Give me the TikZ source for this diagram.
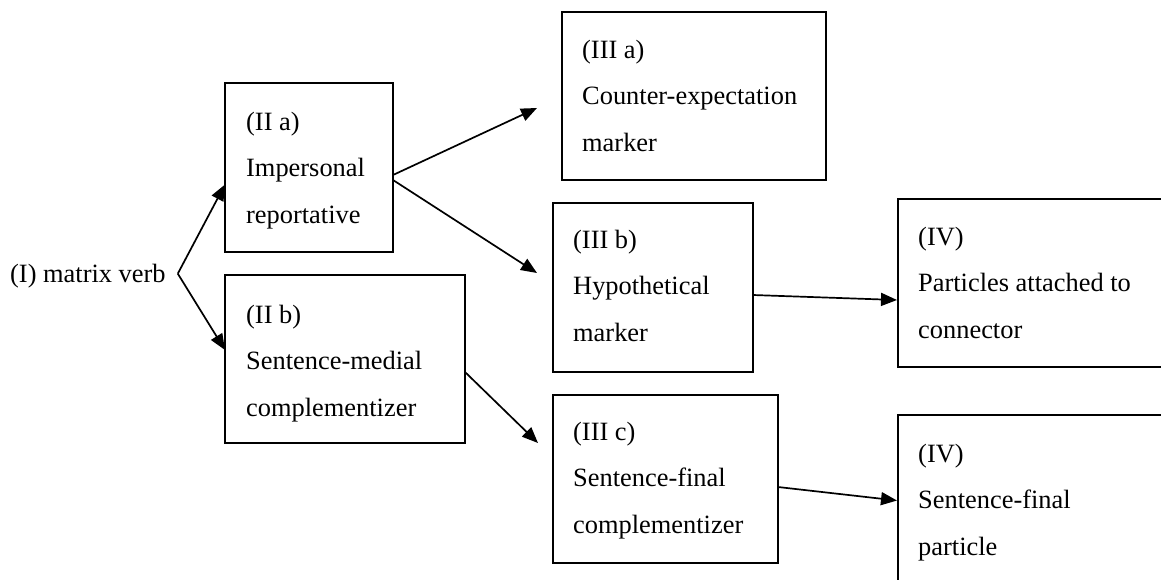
\documentclass[tikz,border=0pt]{standalone}
\usepackage{fontspec}
\setmainfont{Liberation Serif}
\usetikzlibrary{arrows.meta}

\tikzset{
  stage/.style={draw=black, line width=1.8pt, anchor=north west, inner sep=0pt, outer sep=0pt},
  lbl/.style={inner sep=0pt, anchor=base west, font=\fontsize{26.4pt}{46.5pt}\selectfont},
  link/.style={line width=1.7pt, -{Triangle[length=16pt,width=13pt]}},
}
\newcommand{\stagetext}[1]{\parbox[t]{320pt}{\raggedright #1}}

\begin{document}
\begin{tikzpicture}[x=1pt, y=-1pt]
  \useasboundingbox (0,0) rectangle (1161,579);
  \clip (0,0) rectangle (1161,579);

  % source verb
  \node[lbl] (I) at (10,282) {(I) matrix verb};

  % stage boxes
  \node[stage, minimum width=168pt, minimum height=169pt] (IIa) at (225,83) {};
  \node[stage, minimum width=240pt, minimum height=168pt] (IIb) at (225,275) {};
  \node[stage, minimum width=264pt, minimum height=168pt] (IIIa) at (562,12) {};
  \node[stage, minimum width=200pt, minimum height=169pt] (IIIb) at (553,203) {};
  \node[stage, minimum width=225pt, minimum height=168pt] (IIIc) at (553,395) {};
  \node[stage, minimum width=290pt, minimum height=168pt] (IVa) at (898,199) {};
  \node[stage, minimum width=290pt, minimum height=190pt] (IVb) at (898,415) {};

  % box texts
  \node[lbl] (IIa-t) at ([xshift=21pt,yshift=-47pt]IIa.north west)
    {\stagetext{(II a)\\Impersonal\\reportative}};
  \node[lbl] (IIb-t) at ([xshift=21pt,yshift=-48pt]IIb.north west)
    {\stagetext{(II b)\\Sentence-medial\\complementizer}};
  \node[lbl] (IIIa-t) at ([xshift=20pt,yshift=-46pt]IIIa.north west)
    {\stagetext{(III a)\\Counter-expectation\\marker}};
  \node[lbl] (IIIb-t) at ([xshift=20pt,yshift=-45pt]IIIb.north west)
    {\stagetext{(III b)\\Hypothetical\\marker}};
  \node[lbl] (IIIc-t) at ([xshift=20pt,yshift=-45pt]IIIc.north west)
    {\stagetext{(III c)\\Sentence-final\\complementizer}};
  \node[lbl] (IVa-t) at ([xshift=20pt,yshift=-46pt]IVa.north west)
    {\stagetext{(IV)\\Particles attached to\\connector}};
  \node[lbl] (IVb-t) at ([xshift=20pt,yshift=-47pt]IVb.north west)
    {\stagetext{(IV)\\Sentence-final\\particle}};

  % fork point after the verb
  \coordinate (fork) at ([xshift=12pt,yshift=2pt]I.east);

  % connectors
  \draw[link] (fork) -- ([yshift=-17pt]IIa.west);
  \draw[link] (fork) -- ([yshift=9pt]IIb.west);
  \draw[link] ([yshift=-7.5pt]IIa.east) -- ([xshift=-25pt,yshift=-12pt]IIIa.west);
  \draw[link] ([yshift=-12.5pt]IIa.east) -- ([xshift=-16pt,yshift=14.5pt]IIIb.west);
  \draw[link] ([yshift=-13pt]IIb.east) -- ([xshift=-15pt,yshift=36pt]IIIc.west);
  \draw[link] ([yshift=-7.5pt]IIIb.east) -- ([xshift=-1pt,yshift=-17pt]IVa.west);
  \draw[link] ([yshift=-8pt]IIIc.east) -- ([xshift=-1pt,yshift=9.5pt]IVb.west);
\end{tikzpicture}
\end{document}
